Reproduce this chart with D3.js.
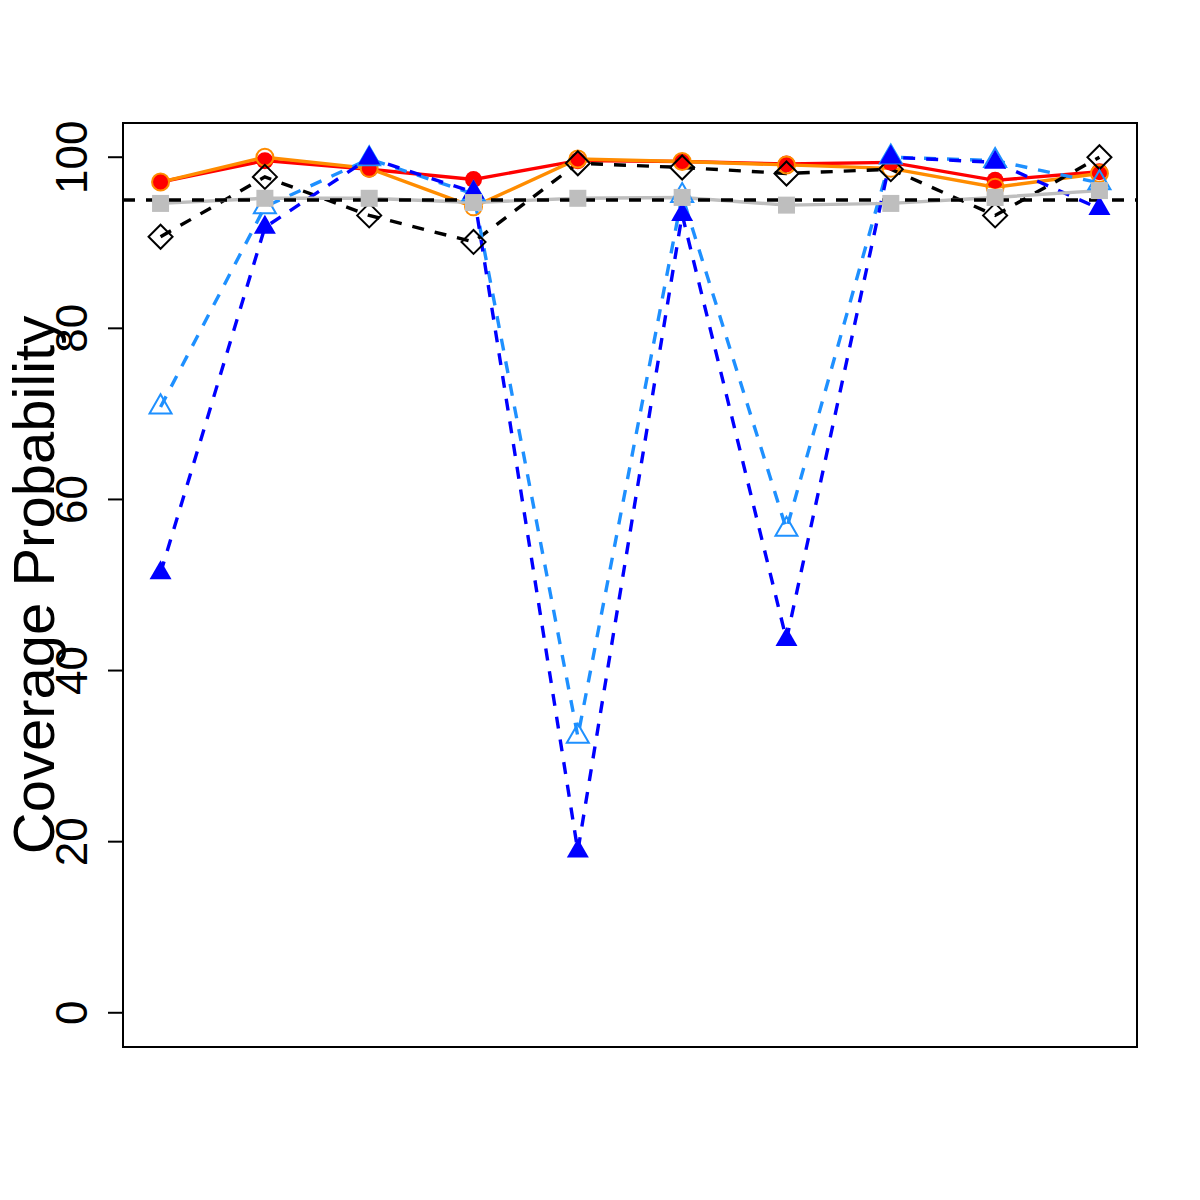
<!DOCTYPE html>
<html>
<head>
<meta charset="utf-8">
<script src="https://cdn.jsdelivr.net/npm/d3@7"></script>
<style>
  body { margin: 0; background: #fff; }
  text { font-family: "Liberation Sans", Arial, Helvetica, sans-serif; }
</style>
</head>
<body>
<div id="chart"></div>
<script>
// values (coverage, in %)
const xs = [1, 2, 3, 4, 5, 6, 7, 8, 9, 10];
const redVals = [97.1, 99.6, 98.6, 97.4, 99.6, 99.5, 99.2, 99.4, 97.3, 98.3];
const orangeVals = [97.1, 100, 98.7, 94.2, 99.8, 99.5, 99.1, 98.7, 96.5, 98.1];
const blackVals = [90.7, 97.7, 93.2, 90.1, 99.3, 98.8, 98.1, 98.6, 93.2, 100];
const dodgerVals = [70.8, 94.2, 99.8, 95.7, 32.3, 95.5, 56.5, 100, 99.6, 97];
const blueVals = [51.4, 91.8, 99.9, 95.9, 18.9, 93.3, 43.6, 100, 99.4, 94.0];
const grayVals = [94.6, 95.2, 95.2, 94.7, 95.2, 95.3, 94.4, 94.6, 95.3, 96.1];
const refLevel = 95;
const yTicks = [0, 20, 40, 60, 80, 100];

const series = [
  {vals: redVals, color: 'red', dash: null, shape: 'circleFilled'},
  {vals: orangeVals, color: 'darkorange', dash: null, shape: 'circleOpen'},
  {vals: blackVals, color: 'black', dash: '12,11', shape: 'diamond'},
  {vals: dodgerVals, color: 'dodgerblue', dash: '12,11', shape: 'triangleOpen'},
  {vals: blueVals, color: 'blue', dash: '12,11', shape: 'triangleFilled'},
  {vals: grayVals, color: '#bebebe', dash: null, shape: 'square'}
];

const W = 1200, H = 1200;
const plot = {left: 123, right: 1137, top: 123, bottom: 1047};

const svg = d3.select('#chart').append('svg')
  .attr('width', W)
  .attr('height', H);

const x = d3.scaleLinear().domain([0.64, 10.36]).range([plot.left, plot.right]);
const y = d3.scaleLinear().domain([-4, 104]).range([plot.bottom, plot.top]);

svg.append('clipPath').attr('id', 'clip')
  .append('rect')
  .attr('x', plot.left).attr('y', plot.top)
  .attr('width', plot.right - plot.left)
  .attr('height', plot.bottom - plot.top);

const g = svg.append('g').attr('clip-path', 'url(#clip)');

const line = d3.line().x((d, i) => x(xs[i])).y(d => y(d));

// lines first
series.forEach(s => {
  g.append('path')
    .attr('d', line(s.vals))
    .attr('fill', 'none')
    .attr('stroke', s.color)
    .attr('stroke-width', 3.4)
    .attr('stroke-dasharray', s.dash);
});

// reference line
g.append('line')
  .attr('x1', plot.left).attr('x2', plot.right)
  .attr('y1', y(refLevel)).attr('y2', y(refLevel))
  .attr('stroke', 'black')
  .attr('stroke-width', 3.4)
  .attr('stroke-dasharray', '12,11');

function shapePath(shape) {
  if (shape === 'diamond') {
    const r = 12;
    return `M0,${-r}L${r},0L0,${r}L${-r},0Z`;
  }
  if (shape.startsWith('triangle')) {
    const r = 12.7, xc = r * 0.866, yc = r / 2;
    return `M0,${-r}L${xc},${yc}L${-xc},${yc}Z`;
  }
  if (shape === 'square') {
    const h = 8.5;
    return `M${-h},${-h}H${h}V${h}H${-h}Z`;
  }
  return null;
}

// points on top
series.forEach(s => {
  const pts = g.append('g');
  s.vals.forEach((v, i) => {
    const cx = x(xs[i]), cy = y(v);
    if (s.shape === 'circleFilled') {
      pts.append('circle').attr('cx', cx).attr('cy', cy).attr('r', 8.5)
        .attr('fill', s.color);
    } else if (s.shape === 'circleOpen') {
      pts.append('circle').attr('cx', cx).attr('cy', cy).attr('r', 8.5)
        .attr('fill', 'none').attr('stroke', s.color).attr('stroke-width', 2);
    } else {
      const filled = s.shape === 'square' || s.shape === 'triangleFilled';
      pts.append('path')
        .attr('d', shapePath(s.shape))
        .attr('transform', `translate(${cx},${cy})`)
        .attr('fill', filled ? s.color : 'none')
        .attr('stroke', s.color)
        .attr('stroke-width', filled ? 0 : 2);
    }
  });
});

// box
svg.append('rect')
  .attr('x', plot.left).attr('y', plot.top)
  .attr('width', plot.right - plot.left)
  .attr('height', plot.bottom - plot.top)
  .attr('fill', 'none')
  .attr('stroke', 'black')
  .attr('stroke-width', 2);

// y axis
const yAxis = svg.append('g');
yAxis.append('line')
  .attr('x1', plot.left).attr('x2', plot.left)
  .attr('y1', y(0)).attr('y2', y(100))
  .attr('stroke', 'black').attr('stroke-width', 2);
yTicks.forEach(t => {
  yAxis.append('line')
    .attr('x1', plot.left - 15).attr('x2', plot.left)
    .attr('y1', y(t)).attr('y2', y(t))
    .attr('stroke', 'black').attr('stroke-width', 2);
  yAxis.append('text')
    .attr('transform', `translate(87,${y(t)}) rotate(-90)`)
    .attr('text-anchor', 'middle')
    .style('font-size', '44px')
    .text(t);
});

svg.append('text')
  .attr('transform', `translate(54,${(plot.top + plot.bottom) / 2}) rotate(-90)`)
  .attr('text-anchor', 'middle')
  .style('font-size', '58px')
  .text('Coverage Probability');
</script>
</body>
</html>
